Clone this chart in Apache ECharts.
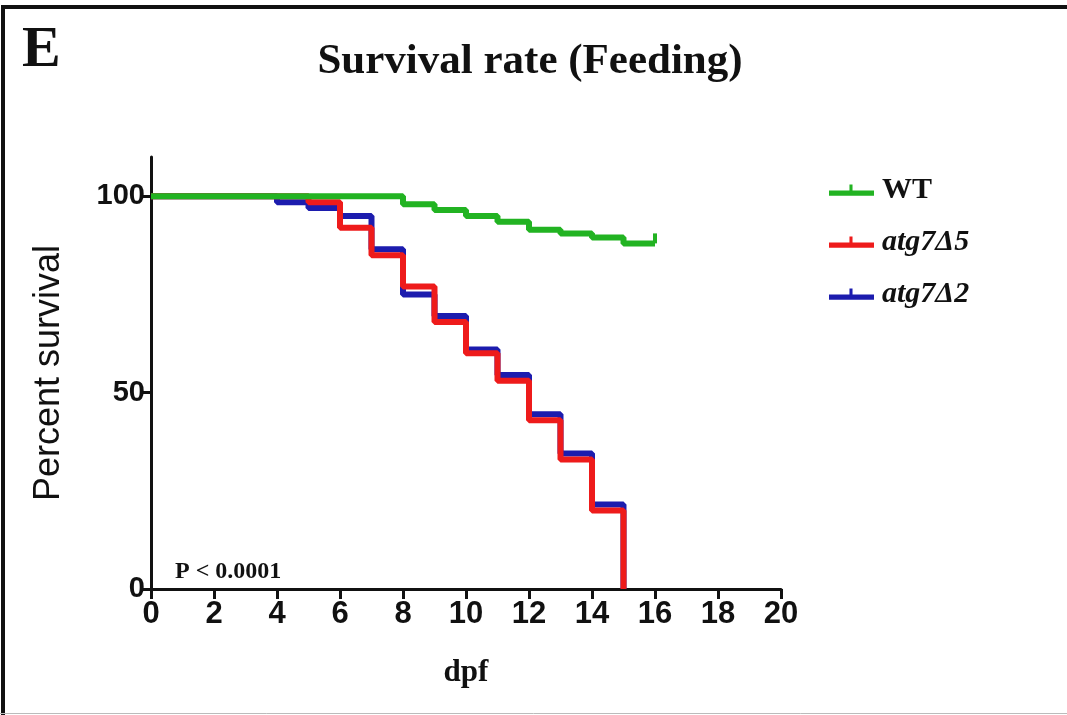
<!DOCTYPE html>
<html>
<head>
<meta charset="utf-8">
<script src="https://cdn.jsdelivr.net/npm/echarts@6/dist/echarts.min.js"></script>
<style>
html,body{margin:0;padding:0;background:#fff;}
#chart{width:1067px;height:715px;}
</style>
</head>
<body>
<div id="chart"></div>
<script>
// ---- data ----
const xTicks = [0, 2, 4, 6, 8, 10, 12, 14, 16, 18, 20];
const yTicks = [0, 50, 100];
const seriesNames = ['WT', 'atg7Δ5', 'atg7Δ2'];

const dpfWT = [0, 8, 9, 10, 11, 12, 13, 14, 15, 16];
const survWT = [100, 98, 96.5, 95, 93.5, 91.5, 90.5, 89.5, 88, 88];

const dpfD5 = [0, 5, 6, 7, 8, 9, 10, 11, 12, 13, 14, 15];
const survD5 = [100, 98.5, 92, 85, 77, 68, 60, 53, 43, 33, 20, 0];

const dpfD2 = [0, 4, 5, 6, 7, 8, 9, 10, 11, 12, 13, 14, 15];
const survD2 = [100, 98.5, 97, 95, 86.5, 75, 69.5, 61, 54.5, 44.5, 34.5, 21.5, 0];

const colors = { 'WT': '#22b322', 'atg7Δ5': '#ee1b1b', 'atg7Δ2': '#1c1cae' };

function pairs(xs, ys) { return xs.map((x, i) => [x, ys[i]]); }

const wtData = pairs(dpfWT, survWT).map((p, i, arr) => i === arr.length - 1
  ? { value: p, symbol: 'rect', symbolSize: [4, 10], symbolOffset: [0, -5] }
  : { value: p });

const legendIcon = 'path://M0,8h44v5h-44z M20,2h3v7h-3z';
const tickFont = "'Liberation Sans Narrow', 'Liberation Sans', sans-serif";

const chart = echarts.init(document.getElementById('chart'));
chart.setOption({
  backgroundColor: '#ffffff',
  animation: false,
  grid: { left: 151, right: 286, top: 157, bottom: 126, containLabel: false },
  xAxis: {
    type: 'value', min: 0, max: 20, interval: 2,
    name: 'dpf', nameLocation: 'middle', nameGap: 68,
    nameTextStyle: { fontFamily: 'Liberation Serif', fontWeight: 'bold', fontSize: 31, color: '#111' },
    axisLine: { show: true, lineStyle: { color: '#111', width: 3 } },
    axisTick: { show: true, length: 10, lineStyle: { color: '#111', width: 3 } },
    axisLabel: { fontFamily: tickFont, fontWeight: 'bold', fontSize: 31, color: '#111', margin: 10 },
    splitLine: { show: false }
  },
  yAxis: {
    type: 'value', min: 0, max: 110,
    name: 'Percent survival', nameLocation: 'middle', nameGap: 84, nameRotate: 90,
    nameTextStyle: { fontFamily: 'Liberation Sans', fontSize: 36, color: '#111' },
    axisLine: { show: true, lineStyle: { color: '#111', width: 3 } },
    axisTick: { show: true, length: 8, customValues: yTicks, lineStyle: { color: '#111', width: 3 } },
    axisLabel: { customValues: yTicks, fontFamily: tickFont, fontWeight: 'bold', fontSize: 29, color: '#111', margin: 6 },
    splitLine: { show: false }
  },
  legend: {
    orient: 'vertical', left: 824, top: 170,
    data: seriesNames,
    icon: legendIcon, itemWidth: 45, itemHeight: 14, itemGap: 22,
    formatter: function (n) { return n === 'WT' ? '{b|' + n + '}' : '{i|' + n + '}'; },
    textStyle: {
      rich: {
        b: { fontFamily: 'Liberation Serif', fontWeight: 'bold', fontSize: 30, lineHeight: 30, color: '#111', padding: [0, 0, 0, 3] },
        i: { fontFamily: 'Liberation Serif', fontWeight: 'bold', fontStyle: 'italic', fontSize: 30, lineHeight: 30, color: '#111', padding: [0, 0, 0, 3] }
      }
    }
  },
  series: [
    { name: 'atg7Δ2', type: 'line', step: 'end', data: pairs(dpfD2, survD2), symbol: 'none',
      color: colors['atg7Δ2'], lineStyle: { width: 6, color: colors['atg7Δ2'] } },
    { name: 'atg7Δ5', type: 'line', step: 'end', data: pairs(dpfD5, survD5), symbol: 'none',
      color: colors['atg7Δ5'], lineStyle: { width: 6, color: colors['atg7Δ5'] } },
    { name: 'WT', type: 'line', step: 'end', data: wtData, symbol: 'none', showSymbol: true,
      color: colors['WT'], itemStyle: { color: colors['WT'] }, lineStyle: { width: 6, color: colors['WT'] } }
  ],
  graphic: [
    { type: 'text', left: 22, top: 22, style: { text: 'E', fontFamily: 'Liberation Serif', fontWeight: 'bold', fontSize: 58, fill: '#111' } },
    { type: 'text', x: 530, y: 62, style: { text: 'Survival rate (Feeding)', fontFamily: 'Liberation Serif', fontWeight: 'bold', fontSize: 43, fill: '#111', align: 'center', verticalAlign: 'middle' } },
    { type: 'text', x: 175, y: 572, style: { text: 'P < 0.0001', fontFamily: 'Liberation Serif', fontWeight: 'bold', fontSize: 24, fill: '#111', align: 'left', verticalAlign: 'middle' } },
    { type: 'polyline', shape: { points: [[1067, 7], [3, 7], [3, 715]] }, style: { stroke: '#111', lineWidth: 4, fill: null } },
    { type: 'line', shape: { x1: 0, y1: 713.5, x2: 1067, y2: 713.5 }, style: { stroke: '#bbb', lineWidth: 1 } }
  ]
});
</script>
</body>
</html>
